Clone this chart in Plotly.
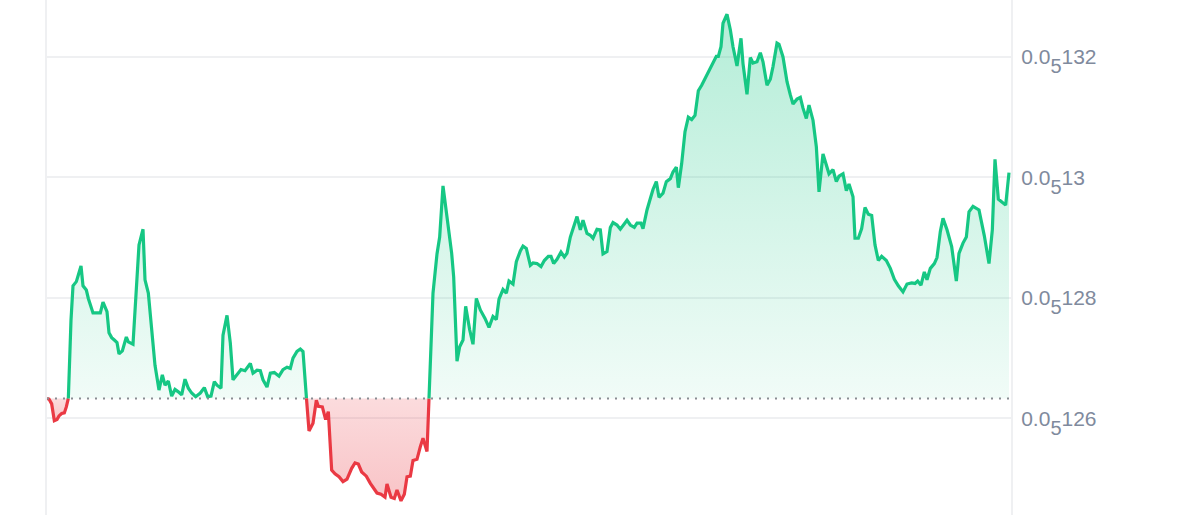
import plotly.graph_objects as go

# time (minutes from start of the 24h window)
minutes = [0, 3, 7, 11, 15, 18, 22, 26, 29, 32, 36, 39, 44, 47, 51, 54, 59, 62, 66, 69,
           75, 80, 84, 87, 90, 93, 97, 101, 105, 108, 113, 119, 122, 129, 132, 138, 144, 147, 152, 157,
           162, 168, 173, 177, 182, 187, 192, 197, 202, 207, 212, 217, 223, 230, 236, 241, 246, 251, 255, 261,
           264, 270, 275, 279, 285, 291, 297, 305, 309, 315, 320, 324, 330, 335, 341, 348, 354, 360, 365, 369,
           375, 380, 384, 389, 393, 399, 404, 407, 413, 418, 422, 427, 432, 438, 444, 450, 457, 462, 467, 472,
           479, 485, 489, 495, 501, 507, 510, 516, 521, 525, 531, 536, 540, 545, 549, 555, 560, 564, 570, 573,
           579, 585, 589, 594, 600, 607, 610, 615, 619, 624, 628, 634, 639, 644, 650, 657, 663, 669, 674, 678,
           684, 689, 693, 699, 704, 710, 714, 719, 725, 729, 735, 741, 746, 752, 756, 760, 765, 771, 776, 780,
           785, 789, 795, 800, 804, 810, 815, 819, 825, 830, 834, 840, 845, 849, 855, 860, 864, 870, 875, 881,
           885, 891, 894, 900, 905, 909, 914, 918, 924, 929, 935, 939, 944, 947, 952, 957, 962, 967, 972, 977,
           982, 987, 993, 999, 1004, 1007, 1011, 1014, 1020, 1025, 1029, 1035, 1041, 1044, 1050, 1055, 1059, 1065, 1070, 1074,
           1080, 1085, 1089, 1095, 1098, 1104, 1110, 1115, 1119, 1125, 1130, 1134, 1139, 1143, 1149, 1154, 1158, 1164, 1170, 1173,
           1179, 1184, 1188, 1194, 1199, 1203, 1209, 1212, 1217, 1222, 1227, 1232, 1237, 1242, 1247, 1252, 1259, 1265, 1271, 1277,
           1284, 1290, 1297, 1302, 1306, 1311, 1316, 1320, 1325, 1331, 1335, 1340, 1344, 1350, 1357, 1364, 1368, 1374, 1379, 1383,
           1389, 1398, 1406, 1413, 1418, 1422, 1427, 1432, 1438, 1443]

# price in units of 1e-9
price_nano = [1263.3, 1263.2, 1262.4, 1259.6, 1259.8, 1260.4, 1260.8, 1260.9, 1261.9, 1263.3, 1276.3, 1282.0, 1282.7, 1283.8, 1285.3, 1282.0, 1281.3, 1279.9, 1278.3, 1277.5,
              1277.5, 1277.5, 1279.3, 1278.6, 1277.7, 1274.2, 1273.4, 1273.0, 1272.6, 1270.7, 1271.2, 1273.5, 1272.7, 1272.3, 1277.4, 1288.8, 1291.4, 1283.0, 1280.8, 1274.7,
              1268.8, 1264.7, 1267.2, 1265.5, 1266.2, 1263.7, 1264.8, 1264.4, 1263.9, 1266.5, 1265.0, 1264.2, 1263.6, 1264.2, 1265.1, 1263.6, 1263.7, 1266.1, 1265.5, 1265.0,
              1273.8, 1277.1, 1272.5, 1266.4, 1267.2, 1268.1, 1267.9, 1269.1, 1267.5, 1268.0, 1267.9, 1266.4, 1265.2, 1267.5, 1267.6, 1267.0, 1268.1, 1268.5, 1268.3, 1270.0,
              1271.1, 1271.5, 1271.1, 1263.6, 1257.9, 1259.2, 1263.0, 1262.0, 1261.9, 1259.8, 1261.1, 1251.4, 1250.8, 1250.3, 1249.5, 1249.9, 1251.7, 1252.6, 1252.4, 1251.1,
              1250.4, 1249.2, 1248.5, 1247.6, 1247.4, 1246.9, 1249.1, 1246.9, 1246.7, 1248.1, 1246.3, 1247.4, 1250.3, 1250.4, 1253.0, 1253.2, 1255.3, 1256.7, 1254.5, 1263.3,
              1280.8, 1287.3, 1290.1, 1298.6, 1293.7, 1287.4, 1283.5, 1269.5, 1271.9, 1273.0, 1278.6, 1274.7, 1272.3, 1279.9, 1278.0, 1276.6, 1275.1, 1276.9, 1276.4, 1279.8,
              1281.4, 1280.8, 1282.8, 1282.3, 1286.0, 1287.8, 1288.6, 1288.2, 1285.4, 1285.8, 1285.7, 1285.2, 1286.2, 1286.9, 1286.9, 1285.7, 1286.4, 1287.6, 1286.8, 1287.4,
              1290.1, 1291.5, 1293.5, 1291.3, 1292.9, 1290.7, 1290.4, 1289.9, 1291.4, 1291.3, 1287.3, 1287.7, 1291.7, 1292.5, 1292.1, 1291.4, 1292.1, 1292.9, 1292.1, 1291.7,
              1292.4, 1292.4, 1291.5, 1294.6, 1296.5, 1298.0, 1299.3, 1296.7, 1297.4, 1299.3, 1299.8, 1300.9, 1301.7, 1298.3, 1302.3, 1307.6, 1310.0, 1309.6, 1310.3, 1314.4,
              1315.3, 1316.4, 1317.8, 1319.2, 1320.1, 1320.1, 1321.7, 1325.6, 1327.1, 1324.5, 1321.7, 1318.5, 1323.1, 1318.9, 1313.8, 1319.9, 1319.0, 1319.2, 1320.7, 1319.2,
              1315.3, 1316.3, 1318.4, 1322.3, 1322.1, 1320.0, 1315.9, 1313.7, 1312.2, 1313.0, 1313.3, 1311.5, 1309.8, 1312.0, 1309.5, 1305.1, 1297.6, 1303.9, 1301.8, 1300.6,
              1301.3, 1299.3, 1300.2, 1300.6, 1297.8, 1298.9, 1296.8, 1289.9, 1289.9, 1291.5, 1295.0, 1293.9, 1293.7, 1288.8, 1286.2, 1286.9, 1286.2, 1284.9, 1283.1, 1282.0,
              1281.0, 1282.3, 1282.5, 1282.4, 1282.8, 1282.1, 1284.3, 1283.0, 1284.9, 1285.7, 1286.7, 1291.0, 1293.2, 1291.3, 1288.5, 1282.8, 1287.4, 1289.1, 1290.1, 1294.3,
              1295.2, 1294.6, 1290.3, 1285.7, 1291.3, 1303.0, 1296.4, 1296.0, 1295.4, 1300.8]

tick_values = [1.26e-6, 1.28e-6, 1.30e-6, 1.32e-6]
tick_digits = ["126", "128", "13", "132"]

prices = [p * 1e-9 for p in price_nano]
base = prices[0]

GREEN = "#16c784"
RED = "#ea3943"
LABEL = "#808a9d"
GRID = "#eff0f2"

# split into segments above / below the opening price
segs = []
xs, ys = [minutes[0]], [prices[0]]
cur_up = prices[0] >= base
for i in range(1, len(prices)):
    x0, y0, x1, y1 = minutes[i - 1], prices[i - 1], minutes[i], prices[i]
    up = y1 >= base
    if up != cur_up:
        t = (base - y0) / (y1 - y0)
        xc = x0 + t * (x1 - x0)
        xs.append(xc); ys.append(base)
        segs.append((cur_up, xs, ys))
        xs, ys = [xc], [base]
        cur_up = up
    xs.append(x1); ys.append(y1)
segs.append((cur_up, xs, ys))

y_lo = 1.24395e-6
y_hi = 1.32946e-6

fig = go.Figure()
for up, sx, sy in segs:
    if len(sx) < 2:
        continue
    px = list(sx) + [sx[-1], sx[0]]
    py = list(sy) + [base, base]
    if up:
        grad = dict(type="vertical", start=base, stop=y_hi,
                    colorscale=[[0, "rgba(22,199,132,0.06)"], [1, "rgba(22,199,132,0.33)"]])
    else:
        grad = dict(type="vertical", start=min(sy), stop=base,
                    colorscale=[[0, "rgba(234,57,67,0.30)"], [1, "rgba(234,57,67,0.18)"]])
    fig.add_trace(go.Scatter(x=px, y=py, mode="lines", line=dict(width=0),
                             fill="toself", fillgradient=grad, hoverinfo="skip",
                             showlegend=False))
for up, sx, sy in segs:
    if len(sx) < 2:
        continue
    fig.add_trace(go.Scatter(x=sx, y=sy, mode="lines",
                             line=dict(color=GREEN if up else RED, width=3.2, shape="linear"),
                             showlegend=False, hoverinfo="skip"))

fig.add_shape(type="line", xref="paper", x0=0, x1=1, yref="y", y0=base, y1=base,
              line=dict(color="#8a8d93", width=2, dash="2px,6px"), layer="above")

ticktext = ['0.0<span style="font-size:20px;baseline-shift:-9px">5</span>' + d for d in tick_digits]

fig.update_layout(
    width=1200, height=515,
    margin=dict(l=47, r=189, t=0, b=0),
    paper_bgcolor="white", plot_bgcolor="white",
    font=dict(family="Liberation Sans, Arial, sans-serif", size=21, color=LABEL),
    xaxis=dict(visible=False, range=[0, 1446], fixedrange=True),
    yaxis=dict(side="right", range=[y_lo, y_hi], tickvals=tick_values, ticktext=ticktext,
               showgrid=True, gridcolor=GRID, gridwidth=1.5, zeroline=False, fixedrange=True,
               showline=True, mirror=True, linecolor=GRID, linewidth=2,
               ticks="", ticklabelstandoff=4, tickfont=dict(size=21, color=LABEL)),
    showlegend=False,
)

fig.write_html("out.html", config={"displayModeBar": False},
               post_script="document.body.style.margin='0';document.body.style.overflow='hidden';")
